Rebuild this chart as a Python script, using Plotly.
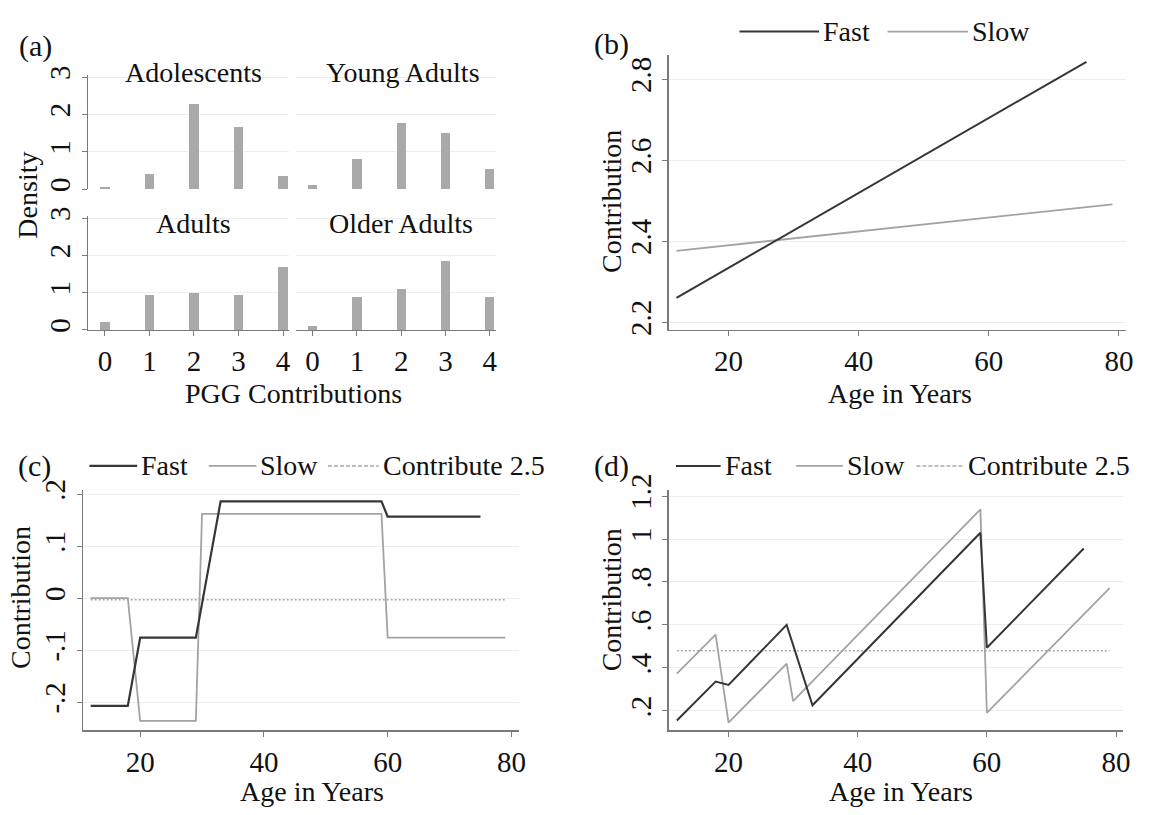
import plotly.graph_objects as go

# ---------------- data ----------------
contrib_levels = [0, 1, 2, 3, 4]
dens_adolescents = [0.06, 0.39, 2.28, 1.65, 0.35]
dens_young = [0.12, 0.80, 1.78, 1.50, 0.55]
dens_adults = [0.22, 0.93, 0.99, 0.93, 1.70]
dens_older = [0.10, 0.87, 1.09, 1.85, 0.87]
facet_titles = ["Adolescents", "Young Adults", "Adults", "Older Adults"]

b_fast_age = [12, 75]
b_fast = [2.26, 2.843]
b_slow_age = [12, 79]
b_slow = [2.376, 2.491]

c_fast_age = [12, 18, 20, 29, 33, 59, 60, 75]
c_fast = [-0.207, -0.207, -0.076, -0.076, 0.186, 0.186, 0.157, 0.157]
c_slow_age = [12, 18, 20, 29, 30, 59, 60, 79]
c_slow = [0.0, 0.0, -0.236, -0.236, 0.162, 0.162, -0.076, -0.076]
c_ref_age = [12, 79]
c_ref = [-0.003, -0.003]

d_fast_age = [12, 18, 20, 29, 33, 59, 60, 75]
d_fast = [0.155, 0.336, 0.321, 0.600, 0.226, 1.029, 0.494, 0.956]
d_slow_age = [12, 18, 20, 29, 30, 59, 60, 79]
d_slow = [0.373, 0.555, 0.145, 0.420, 0.245, 1.138, 0.191, 0.771]
d_ref_age = [12, 79]
d_ref = [0.48, 0.48]

age_ticks = [20, 40, 60, 80]
b_ticks = [2.2, 2.4, 2.6, 2.8]
b_ticktext = ["2.2", "2.4", "2.6", "2.8"]
c_ticks = [-0.2, -0.1, 0, 0.1, 0.2]
c_ticktext = ["-.2", "-.1", "0", ".1", ".2"]
d_ticks = [0.2, 0.4, 0.6, 0.8, 1.0, 1.2]
d_ticktext = [".2", ".4", ".6", ".8", "1", "1.2"]
dens_ticks = [0, 1, 2, 3]

# ---------------- style ----------------
W, H = 1154, 815
FONT = "Liberation Serif"
FAST_C = "#363636"
SLOW_C = "#a3a3a3"
REF_C = "#a9a9a9"
BAR_C = "#a9a9a9"
GRID_C = "#eeeeee"
AX_C = "#7a7a7a"
TXT = "#111111"
TICK_FS = 29
TITLE_FS = 28


def fx(p):
    return p / W


def fy(p):
    return 1 - p / H


fig = go.Figure()

# ---------------- panel (a) ----------------
facets = [
    (dens_adolescents, "x", "y", (89, 291), (60, 177)),
    (dens_young, "x2", "y2", (298, 499), (60, 177)),
    (dens_adults, "x3", "y3", (89, 291), (205, 322)),
    (dens_older, "x4", "y4", (298, 499), (205, 322)),
]
for vals, xa, ya, _, _ in facets:
    fig.add_trace(go.Bar(x=contrib_levels, y=vals, xaxis=xa, yaxis=ya,
                         marker=dict(color=BAR_C, line=dict(width=0)),
                         width=0.21, showlegend=False))

layout_axes = {}
for i, (vals, xa, ya, (x0, x1), (y0, y1)) in enumerate(facets):
    xn = "xaxis" if i == 0 else f"xaxis{i+1}"
    yn = "yaxis" if i == 0 else f"yaxis{i+1}"
    bottom = i >= 2
    left = i % 2 == 0
    layout_axes[xn] = dict(domain=[fx(x0), fx(x1)], anchor=ya, range=[-0.37, 4.14],
                           showgrid=False, zeroline=False,
                           showline=bottom, linecolor=AX_C, linewidth=1.5,
                           ticks="outside" if bottom else "", ticklen=5, tickcolor=AX_C,
                           tickvals=contrib_levels, showticklabels=bottom,
                           tickfont=dict(family=FONT, size=TICK_FS, color=TXT))
    layout_axes[yn] = dict(domain=[fy(y1), fy(y0)], anchor=xa, range=[0, 3.05],
                           showgrid=True, gridcolor=GRID_C, gridwidth=1,
                           zeroline=False, showline=left, linecolor=AX_C, linewidth=1.5,
                           ticks="outside" if left else "", ticklen=5, tickcolor=AX_C,
                           tickvals=dens_ticks, showticklabels=left, tickangle=-90,
                           tickfont=dict(family=FONT, size=TICK_FS, color=TXT))

# ---------------- panels (b), (c), (d) ----------------
line_panels = [
    (5, (673, 1133), (39, 322), [10.84, 81.1], [2.1808, 2.86], b_ticks, b_ticktext),
    (6, (84, 522), (487, 734), [10.84, 81.2], [-0.254, 0.2075], c_ticks, c_ticktext),
    (7, (673, 1130), (487, 734), [10.77, 81.1], [0.1095, 1.227], d_ticks, d_ticktext),
]
for idx, (x0, x1), (y0, y1), xr, yr, yt, ytt in line_panels:
    layout_axes[f"xaxis{idx}"] = dict(domain=[fx(x0), fx(x1)], anchor=f"y{idx}", range=xr,
                                      showgrid=False, zeroline=False, showline=True,
                                      linecolor=AX_C, linewidth=1.5, ticks="outside",
                                      ticklen=5, tickcolor=AX_C, tickvals=age_ticks,
                                      tickfont=dict(family=FONT, size=TICK_FS, color=TXT))
    layout_axes[f"yaxis{idx}"] = dict(domain=[fy(y1), fy(y0)], anchor=f"x{idx}", range=yr,
                                      showgrid=True, gridcolor=GRID_C, gridwidth=1,
                                      zeroline=False, showline=True, linecolor=AX_C,
                                      linewidth=1.5, ticks="outside", ticklen=5,
                                      tickcolor=AX_C, tickvals=yt, ticktext=ytt,
                                      tickangle=-90,
                                      tickfont=dict(family=FONT, size=TICK_FS, color=TXT))

series = [
    (b_slow_age, b_slow, "x5", "y5", SLOW_C, 1.8, "solid"),
    (b_fast_age, b_fast, "x5", "y5", FAST_C, 2.0, "solid"),
    (c_ref_age, c_ref, "x6", "y6", REF_C, 1.6, "2px,2px"),
    (c_slow_age, c_slow, "x6", "y6", SLOW_C, 1.8, "solid"),
    (c_fast_age, c_fast, "x6", "y6", FAST_C, 2.2, "solid"),
    (d_ref_age, d_ref, "x7", "y7", REF_C, 1.6, "2px,2px"),
    (d_slow_age, d_slow, "x7", "y7", SLOW_C, 1.8, "solid"),
    (d_fast_age, d_fast, "x7", "y7", FAST_C, 2.0, "solid"),
]
for xs, ys, xa, ya, col, w, dash in series:
    fig.add_trace(go.Scatter(x=xs, y=ys, xaxis=xa, yaxis=ya, mode="lines",
                             line=dict(color=col, width=w, dash=dash),
                             showlegend=False, hoverinfo="skip"))

# ---------------- text ----------------
annotations = []


def txt(text, x, y, size=TITLE_FS, angle=0, xanchor="center", yanchor="middle"):
    annotations.append(dict(text=text, x=fx(x), y=fy(y), xref="paper", yref="paper",
                            showarrow=False, xanchor=xanchor, yanchor=yanchor,
                            textangle=angle,
                            font=dict(family=FONT, size=size, color=TXT)))


txt("(a)", 36, 30, size=30)
txt("(b)", 615, 28, size=30)
txt("(c)", 35, 462, size=30)
txt("(d)", 615, 462, size=30)

txt(facet_titles[0], 195, 57)
txt(facet_titles[1], 405, 57)
txt(facet_titles[2], 195, 213)
txt(facet_titles[3], 403, 213)
txt("Density", 28, 183, angle=-90)
txt("PGG Contributions", 295, 387)

txt("Contribution", 615, 190, angle=-90)
txt("Age in Years", 905, 387)
txt("Contribution", 20, 597, angle=-90)
txt("Age in Years", 314, 815, yanchor="bottom")
txt("Contribution", 615, 600, angle=-90)
txt("Age in Years", 907, 815, yanchor="bottom")

# legends (key lines as shapes + labels)
shapes = []


def key(x0, x1, y, col, w, dash, label):
    shapes.append(dict(type="line", xref="paper", yref="paper",
                       x0=fx(x0), x1=fx(x1), y0=fy(y), y1=fy(y),
                       line=dict(color=col, width=w, dash=dash)))
    txt(label, x1 + 2, y, xanchor="left")


key(744, 824, 15, FAST_C, 2.0, "solid", "Fast")
key(893, 974, 15, SLOW_C, 1.8, "solid", "Slow")

key(90, 138, 462, FAST_C, 2.2, "solid", "Fast")
key(210, 258, 462, SLOW_C, 1.8, "solid", "Slow")
key(330, 381, 462, REF_C, 1.6, "4px,2px", "Contribute 2.5")

key(680, 725, 462, FAST_C, 2.0, "solid", "Fast")
key(801, 848, 462, SLOW_C, 1.8, "solid", "Slow")
key(922, 970, 462, REF_C, 1.6, "4px,2px", "Contribute 2.5")

fig.update_layout(
    width=W, height=H, margin=dict(l=0, r=0, t=0, b=0),
    paper_bgcolor="white", plot_bgcolor="white",
    showlegend=False, bargap=0,
    font=dict(family=FONT, color=TXT),
    annotations=annotations, shapes=shapes,
    **layout_axes,
)

fig.write_html("out.html",
               config={"displayModeBar": False, "staticPlot": True},
               post_script="document.body.style.margin='0';document.body.style.padding='0';")
